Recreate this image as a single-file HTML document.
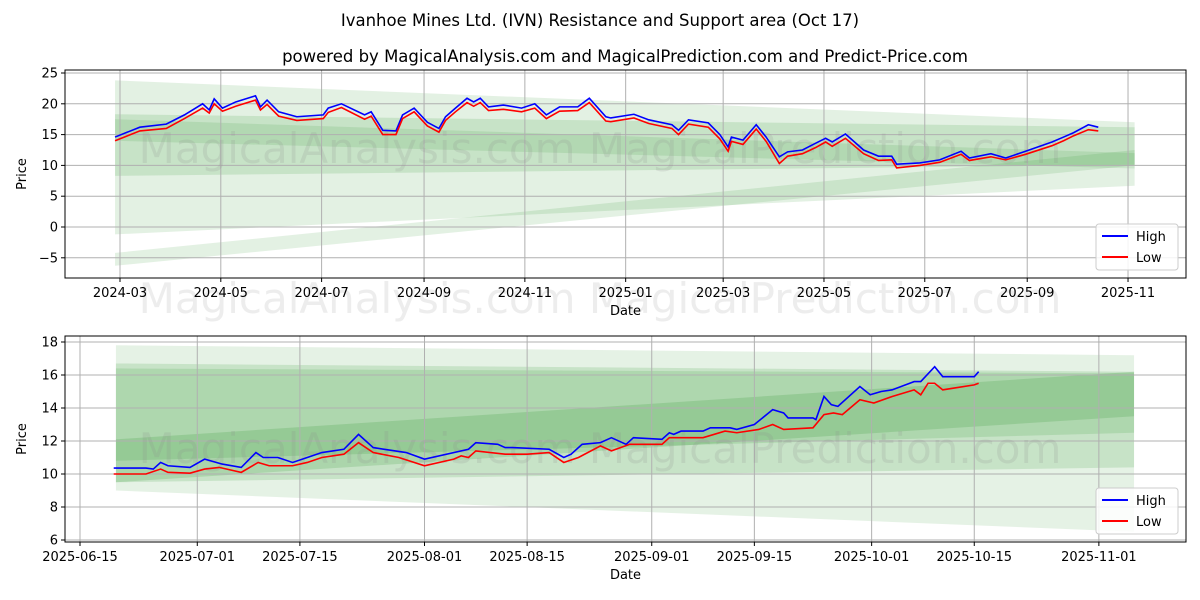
<!DOCTYPE html>
<html><head><meta charset="utf-8"><style>
body{margin:0;background:#fff;}
svg{display:block;font-family:"DejaVu Sans","Liberation Sans",sans-serif;}
</style></head><body>
<svg id="chart" width="1200" height="600" viewBox="0 0 1200 600" xmlns="http://www.w3.org/2000/svg">
<text x="600" y="26" font-size="16.5" text-anchor="middle">Ivanhoe Mines Ltd. (IVN) Resistance and Support area (Oct 17)</text>
<text x="625" y="62" font-size="16.5" text-anchor="middle">powered by MagicalAnalysis.com and MagicalPrediction.com and Predict-Price.com</text>
<g id="top"></g>
<g id="bot"></g>
</svg>
<script>
// ---- top panel data (days since 2024-03-01) ----
const topDays=[-3,12,28,39,50,54,57,62,70,82,85,89,96,107,123,126,134,148,152,159,167,171,178,186,193,197,203,210,214,218,223,232,243,251,258,266,277,284,294,297,311,320,334,338,344,356,363,368,370,377,385,391,399,404,413,421,427,431,439,450,459,467,470,484,496,509,514,527,536,548,564,571,577,586,592];
const topHigh=[14.6,16.2,16.7,18.2,20,19,20.8,19.3,20.3,21.3,19.5,20.6,18.7,17.9,18.2,19.3,20,18.2,18.7,15.7,15.6,18.2,19.3,17,16,17.9,19.3,20.9,20.3,20.9,19.5,19.8,19.3,20,18.2,19.5,19.5,20.9,17.9,17.7,18.3,17.4,16.6,15.7,17.4,16.9,15,13,14.6,14.1,16.6,14.6,11.4,12.2,12.5,13.6,14.4,13.8,15.1,12.5,11.5,11.5,10.2,10.4,10.9,12.3,11.2,11.9,11.2,12.3,13.8,14.6,15.3,16.6,16.2];
const topLow=[14.0,15.6,16.0,17.6,19.3,18.5,20.0,18.8,19.6,20.6,19.0,19.9,18.0,17.3,17.6,18.6,19.4,17.5,18.0,15.0,15.0,17.6,18.7,16.4,15.4,17.3,18.7,20.2,19.6,20.2,18.9,19.1,18.7,19.3,17.6,18.8,18.9,20.2,17.2,17.1,17.7,16.8,16.0,15.0,16.7,16.2,14.3,12.3,13.9,13.4,15.9,13.9,10.3,11.5,11.9,12.9,13.8,13.1,14.4,11.9,10.8,10.9,9.6,10.0,10.5,11.8,10.8,11.4,10.9,11.8,13.2,14.0,14.8,15.8,15.6];
const topTicks=[25,20,15,10,5,0,-5];
const topXLabels=["2024-03","2024-05","2024-07","2024-09","2024-11","2025-01","2025-03","2025-05","2025-07","2025-09","2025-11"];
const topXTickDays=[0,61,122,184,245,306,365,426,487,549,610];
const topBandStart=-3, topBandEnd=614;
const topBandTL=[23.8,-4.2,18.3,17.5];
const topBandBL=[-1.2,-6.3,8.3,14];
const topBandTR=[17.0,12.5,16.2,12];
const topBandBR=[6.7,10,10.1,9.5];
const topBandOp=[0.11,0.11,0.12,0.1];

// ---- bottom panel data (days since 2025-06-15) ----
const botDaysH=[4.6,9,10,11,12,15,17,19.4,22,24,25,27,29,31,33,36,38,40,44.5,47,53,54,57,58,59,64,66,67,68.5,71,72.5,74.5,75.5,79.4,80.4,81,82,85,86,88.7,89.6,92,94.5,96,96.6,100,100.4,101.5,102.5,103.4,106.4,107.8,109.3,110.8,113.8,114.7,116.6,117.7,122,122.6];
const botHigh=[10.36,10.36,10.3,10.7,10.5,10.4,10.9,10.6,10.4,11.3,11.0,11.0,10.7,11.0,11.3,11.5,12.4,11.6,11.3,10.9,11.5,11.9,11.8,11.6,11.6,11.5,11.0,11.2,11.8,11.9,12.2,11.8,12.2,12.1,12.5,12.4,12.6,12.6,12.8,12.8,12.7,13.0,13.9,13.7,13.4,13.4,13.3,14.7,14.2,14.1,15.3,14.8,15.0,15.1,15.6,15.6,16.5,15.9,15.9,16.2];
const botDaysL=[4.6,9,11,12,15,17,19,22,24.3,25.8,29,31,33,36,38,40,43.5,47,51,52,53,54,58,61,64,66,68,71,72.5,75,79.4,80.4,82,85,88,89.6,92.6,94.5,96,100,101.5,102.8,104,106.4,108.3,110.8,113.8,114.7,115.7,116.6,117.7,122,122.6];
const botLow=[10.0,10.0,10.3,10.1,10.05,10.3,10.4,10.1,10.7,10.5,10.5,10.7,11.0,11.2,11.9,11.3,11.0,10.5,10.9,11.1,11.0,11.4,11.2,11.2,11.3,10.7,11.0,11.7,11.4,11.8,11.8,12.2,12.2,12.2,12.6,12.5,12.7,13.0,12.7,12.8,13.6,13.7,13.6,14.5,14.3,14.7,15.1,14.8,15.5,15.5,15.1,15.4,15.5];
const botTicks=[18,16,14,12,10,8,6];
const botXLabels=["2025-06-15","2025-07-01","2025-07-15","2025-08-01","2025-08-15","2025-09-01","2025-09-15","2025-10-01","2025-10-15","2025-11-01"];
const botXTickDays=[0,16,30,47,61,78,92,108,122,139];
const botBandStart=4.9, botBandEnd=143.8;
const botBandTL=[17.8,16.7,16.4,12.1];
const botBandBL=[9.0,9.5,10.8,9.5];
const botBandTR=[17.2,16.2,16.1,16.2];
const botBandBR=[6.5,10.4,12.5,13.5];
const botBandOp=[0.1,0.13,0.12,0.14];

const NS="http://www.w3.org/2000/svg";
function mk(parent,tag,attrs){const e=document.createElementNS(NS,tag);for(const k in attrs)e.setAttribute(k,attrs[k]);parent.appendChild(e);return e;}

function panel(g,cfg){
  const {L,R,T,B,x,y}=cfg;
  for(let i=0;i<cfg.bTL.length;i++){
    const x0=x(cfg.bStart),x1=x(cfg.bEnd);
    const p=mk(g,'polygon',{points:`${x0},${y(cfg.bTL[i])} ${x1},${y(cfg.bTR[i])} ${x1},${y(cfg.bBR[i])} ${x0},${y(cfg.bBL[i])}`,fill:'green','fill-opacity':cfg.bOp[i]});
    
    
  }
  cfg.yTicks.forEach(v=>{
    const yy=y(v);
    const l=mk(g,'line',{x1:L,x2:R,y1:yy,y2:yy,stroke:'#b0b0b0','stroke-width':1});
    
    
    mk(g,'line',{x1:L-4,x2:L,y1:yy,y2:yy,stroke:'#000'});
    const t=mk(g,'text',{x:L-7,y:yy+4.5,'font-size':13,'text-anchor':'end'});
    t.textContent=v<0?'\u2212'+Math.abs(v):String(v);
    
    
  });
  cfg.xTickDays.forEach((d,i)=>{
    const xx=x(d);
    const l=mk(g,'line',{x1:xx,x2:xx,y1:T,y2:B,stroke:'#b0b0b0','stroke-width':1});
    
    
    mk(g,'line',{x1:xx,x2:xx,y1:B,y2:B+4,stroke:'#000'});
    const t=mk(g,'text',{x:xx,y:B+19,'font-size':13,'text-anchor':'middle'});
    t.textContent=cfg.xLabels[i];
    
    
  });
  const w=mk(g,'text',{x:600,y:cfg.wmY,'font-size':42,'text-anchor':'middle',fill:'#888','fill-opacity':0.18});
  w.textContent='MagicalAnalysis.com   MagicalPrediction.com';
  
  
  const hp=cfg.hDays.map((d,i)=>`${x(d)},${y(cfg.high[i])}`).join(' ');
  const lp=cfg.lDays.map((d,i)=>`${x(d)},${y(cfg.low[i])}`).join(' ');
  const hl=mk(g,'polyline',{points:hp,fill:'none',stroke:'blue','stroke-width':1.6});
  
  
  const ll=mk(g,'polyline',{points:lp,fill:'none',stroke:'red','stroke-width':1.6});
  
  
  const f=mk(g,'rect',{x:L,y:T,width:R-L,height:B-T,fill:'none',stroke:'#000','stroke-width':1});
  
  
  const yt=mk(g,'text',{x:0,y:0,'font-size':13,'text-anchor':'middle',transform:`translate(26,${(T+B)/2}) rotate(-90)`});
  yt.textContent='Price';
  
  
  const xt=mk(g,'text',{x:(L+R)/2,y:B+37,'font-size':13,'text-anchor':'middle'});
  xt.textContent='Date';
  
  
  const lg=mk(g,'g',{});
  
  
  const lx=R-90,ly=B-54;
  mk(lg,'rect',{x:lx,y:ly,width:82,height:46,rx:3,fill:'#fff','fill-opacity':0.85,stroke:'#ccc'});
  mk(lg,'line',{x1:lx+6,x2:lx+32,y1:ly+12,y2:ly+12,stroke:'blue','stroke-width':2});
  const t1=mk(lg,'text',{x:lx+40,y:ly+17,'font-size':13});t1.textContent='High';
  
  
  mk(lg,'line',{x1:lx+6,x2:lx+32,y1:ly+33,y2:ly+33,stroke:'red','stroke-width':2});
  const t2=mk(lg,'text',{x:lx+40,y:ly+38,'font-size':13});t2.textContent='Low';
  
  
}

panel(document.getElementById('top'),{
  L:65,R:1186,T:70,B:278,
  x:d=>120+d*1.6525, y:v=>227-v*6.16, wmY:163,
  bStart:topBandStart,bEnd:topBandEnd,bTL:topBandTL,bBL:topBandBL,bTR:topBandTR,bBR:topBandBR,bOp:topBandOp,
  yTicks:topTicks,xTickDays:topXTickDays,xLabels:topXLabels,
  hDays:topDays,high:topHigh,lDays:topDays,low:topLow
});
panel(document.getElementById('bot'),{
  L:65,R:1186,T:336,B:542,
  x:d=>80+d*7.33, y:v=>474-(v-10)*16.5, wmY:463,
  bStart:botBandStart,bEnd:botBandEnd,bTL:botBandTL,bBL:botBandBL,bTR:botBandTR,bBR:botBandBR,bOp:botBandOp,
  yTicks:botTicks,xTickDays:botXTickDays,xLabels:botXLabels,
  hDays:botDaysH,high:botHigh,lDays:botDaysL,low:botLow
});
const mw=document.createElementNS(NS,'text');
mw.setAttribute('x','600');mw.setAttribute('y','313');mw.setAttribute('font-size','42');
mw.setAttribute('text-anchor','middle');mw.setAttribute('fill','#888');mw.setAttribute('fill-opacity','0.15');
mw.textContent='MagicalAnalysis.com   MagicalPrediction.com';


document.getElementById('chart').insertBefore(mw,document.getElementById('top'));
</script>
</body></html>
